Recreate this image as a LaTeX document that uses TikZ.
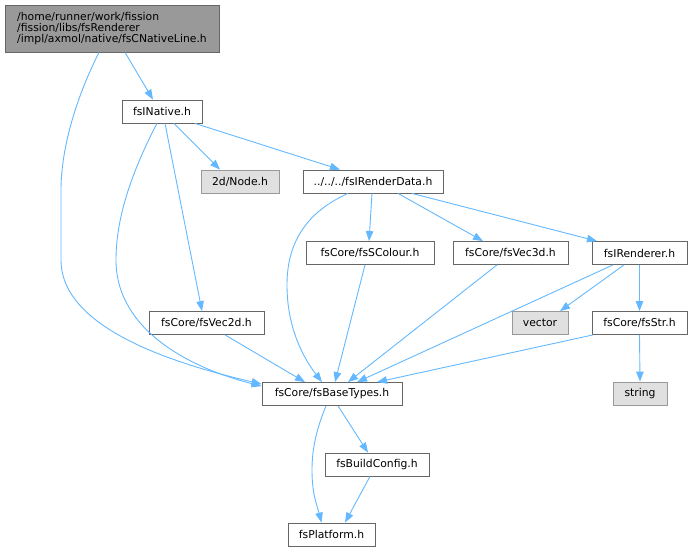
\documentclass[tikz,border=0pt]{standalone}
\usepackage{fontspec}
\setmainfont{DejaVu Sans}
\usetikzlibrary{arrows.meta}
\definecolor{edgeblue}{HTML}{63B8FF}
\definecolor{boxborder}{HTML}{666666}
\definecolor{extborder}{HTML}{999999}
\definecolor{extfill}{HTML}{E0E0E0}
\definecolor{rootfill}{HTML}{999999}
\begin{document}
\begin{tikzpicture}[x=1pt,y=-1pt,
  font=\fontsize{10.8}{11.3}\selectfont,
  box/.style={draw=boxborder, fill=white, line width=0.8pt, minimum height=23pt, inner sep=0pt, text=black},
  extbox/.style={box, draw=extborder, fill=extfill},
  rootbox/.style={box, fill=rootfill, align=left, minimum height=47pt},
  edge/.style={draw=edgeblue, line width=0.9pt, -{Triangle[length=10pt,width=7.5pt]}}]
\useasboundingbox (0,0) rectangle (693,552);

\node[rootbox, minimum width=214pt] (root) at (112,28.5) {/home/runner/work/fission\\/fission/libs/fsRenderer\\/impl/axmol/native/fsCNativeLine.h};
\node[box, minimum width=80pt] (native) at (162,111.5) {fsINative.h};
\node[extbox, minimum width=78pt] (node2d) at (240,181.5) {2d/Node.h};
\node[box, minimum width=140pt] (rdata) at (373,181.5) {../../../fsIRenderData.h};
\node[box, minimum width=128pt] (scolour) at (370,253) {fsCore/fsSColour.h};
\node[box, minimum width=115pt] (vec3d) at (510.5,253) {fsCore/fsVec3d.h};
\node[box, minimum width=95pt] (irend) at (639.5,253) {fsIRenderer.h};
\node[box, minimum width=115pt] (vec2d) at (206.5,323) {fsCore/fsVec2d.h};
\node[extbox, minimum width=56pt] (vector) at (540,323) {vector};
\node[box, minimum width=95pt] (str) at (639.5,323) {fsCore/fsStr.h};
\node[extbox, minimum width=54pt] (string) at (640,393.5) {string};
\node[box, minimum width=140pt] (base) at (332,394) {fsCore/fsBaseTypes.h};
\node[box, minimum width=104pt] (build) at (377,464.5) {fsBuildConfig.h};
\node[box, minimum width=87pt] (plat) at (331.5,534.5) {fsPlatform.h};

% edges
\draw[edge] ([xshift=13pt]root.south) -- ([xshift=-9pt]native.north);
\draw[edge] ([xshift=-13pt]root.south) .. controls (75,100) and (61,150) .. (61,190)
  -- (61,260) .. controls (61,330) and (180,365) .. ([yshift=-2pt]base.north west);
\draw[edge] ([xshift=-5pt]native.south) .. controls (130,175) and (116,220) .. (116,260)
  .. controls (116,330) and (190,368) .. ([yshift=-4pt]base.north west);
\draw[edge] ([xshift=12pt]native.south) -- ([xshift=-20pt]node2d.north);
\draw[edge] ([xshift=33pt]native.south) -- ([xshift=-33pt]rdata.north);
\draw[edge] ([xshift=3pt]native.south) -- ([xshift=-4.5pt]vec2d.north);
\draw[edge] ([xshift=-25pt]rdata.south) .. controls (300,215) and (287,250) .. (287,285)
  .. controls (287,330) and (305,360) .. ([xshift=-10pt]base.north);
\draw[edge] ([xshift=-1pt]rdata.south) -- ([xshift=-1pt]scolour.north);
\draw[edge] ([xshift=25pt]rdata.south) -- ([xshift=-27.5pt]vec3d.north);
\draw[edge] ([xshift=39pt]rdata.south) -- ([xshift=-42.5pt]irend.north);
\draw[edge] ([xshift=-5pt]scolour.south) -- ([xshift=3pt]base.north);
\draw[edge] ([xshift=-13.5pt]vec3d.south) -- ([xshift=16pt]base.north);
\draw[edge] ([xshift=-26.5pt]irend.south) -- ([xshift=25pt]base.north);
\draw[edge] ([xshift=-15.5pt]irend.south) -- ([xshift=20pt]vector.north);
\draw[edge] (irend.south) -- (str.north);
\draw[edge] ([xshift=-46.5pt]str.south) -- ([xshift=45pt]base.north);
\draw[edge] (str.south) -- (string.north);
\draw[edge] ([xshift=18.5pt]vec2d.south) -- ([xshift=-27pt]base.north);
\draw[edge] ([xshift=6pt]base.south) -- ([xshift=-9pt]build.north);
\draw[edge] ([xshift=-7pt]build.south) -- ([xshift=13.5pt]plat.north);
\draw[edge] ([xshift=-6pt]base.south) .. controls (316,430) and (312,450) .. (312,470)
  .. controls (312,495) and (317,505) .. ([xshift=-10pt]plat.north);
\end{tikzpicture}
\end{document}
